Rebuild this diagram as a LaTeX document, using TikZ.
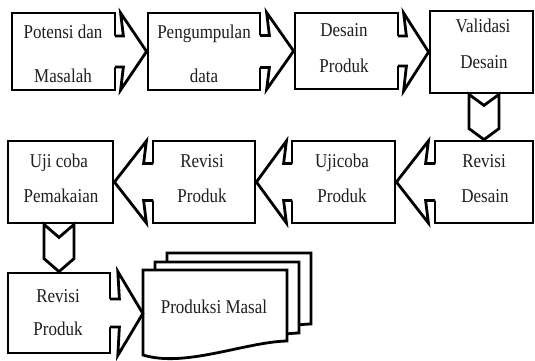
\documentclass[tikz,border=0pt]{standalone}
\usepackage{fontspec}
\setmainfont{Liberation Serif}
\usetikzlibrary{calc}
\newcommand\tx[1]{\scalebox{1}[1.15]{#1}}
\tikzset{
  lw/.style={line width=2.8pt},
  box/.style={draw, lw, rectangle, inner sep=0pt, fill=white},
  conn/.style={draw, lw, line cap=rect, line join=miter},
  txt/.style={anchor=base, inner sep=0pt, text=black!88, font=\fontsize{17}{17}\selectfont},
}
% #1 from anchor, #2 to anchor, #3 direction (1 or -1), #4 stem length, #5 head length, #6 stem half height, #7 head half height
\newcommand\blockarrow[7]{%
  \fill[white] ($(#1)+({#3*(-3.5)},{-#6})$) -- ($(#1)+({#3*#4},{-#6})$) -- ($(#2)+({#3*(-#5)},{-#7})$) -- (#2)
     -- ($(#2)+({#3*(-#5)},{#7})$) -- ($(#1)+({#3*#4},{#6})$) -- ($(#1)+({#3*(-3.5)},{#6})$) -- cycle;
  \draw[conn] ($(#1)+(0,{-#6})$) -- ($(#1)+({#3*#4},{-#6})$) -- ($(#2)+({#3*(-#5)},{-#7})$) -- (#2)
     -- ($(#2)+({#3*(-#5)},{#7})$) -- ($(#1)+({#3*#4},{#6})$) -- ($(#1)+(0,{#6})$);
}
% #1 from node, #2 to node, #3 notch depth
\newcommand\chevdown[3]{%
  \filldraw[conn, fill=white] ($(#1.south -| #2.north)+(-15,0)$) -- ($(#2.north)+(-15,{-#3})$) -- (#2.north)
     -- ($(#2.north)+(15,{-#3})$) -- ($(#1.south -| #2.north)+(15,0)$) -- ($(#1.south -| #2.north)+(0,{#3})$) -- cycle;
}
\begin{document}
\begin{tikzpicture}[x=1pt, y=-1pt]
\useasboundingbox (0,0) rectangle (535,361);
% row 1
\node[box, minimum width=103pt, minimum height=77pt] (b1) at (63.5,51.5) {};
\node[box, minimum width=112pt, minimum height=77pt] (b2) at (204,51.5) {};
\node[box, minimum width=103pt, minimum height=76pt] (b3) at (346.5,51) {};
\node[box, minimum width=103pt, minimum height=82pt] (b4) at (481.5,52) {};
% row 2
\node[box, minimum width=105pt, minimum height=82pt] (c1) at (60.5,182) {};
\node[box, minimum width=102pt, minimum height=82pt] (c2) at (204,182) {};
\node[box, minimum width=103pt, minimum height=82pt] (c3) at (343.5,182) {};
\node[box, minimum width=98pt, minimum height=82pt] (c4) at (484,182) {};
% row 3
\node[box, minimum width=102pt, minimum height=80pt] (d1) at (59,313) {};
% stacked documents
\begin{scope}[shift={(24,-17)}]
  \filldraw[conn, fill=white] (143,270) -- (287,270) -- (287,341) .. controls (245,342) and (185,368) .. (143,355) -- cycle;
\end{scope}
\begin{scope}[shift={(12,-8)}]
  \filldraw[conn, fill=white] (143,270) -- (287,270) -- (287,341) .. controls (245,342) and (185,368) .. (143,355) -- cycle;
\end{scope}
\filldraw[conn, fill=white] (143,270) -- (287,270) -- (287,341) .. controls (245,342) and (185,368) .. (143,355) -- cycle;
\node[minimum width=144pt, minimum height=87pt, inner sep=0pt] (pm) at (215,313.5) {};
% connectors
\blockarrow{b1.east}{b2.west}{1}{7}{26}{15.5}{38.5}
\blockarrow{b2.east}{b3.west}{1}{8}{27}{16}{38.5}
\blockarrow{b3.east}{b4.west}{1}{7}{25}{15}{39}
\chevdown{b4}{c4}{11}
\blockarrow{c4.west}{c3.east}{-1}{8}{32}{18.5}{41}
\blockarrow{c3.west}{c2.east}{-1}{7}{30}{18.5}{41}
\blockarrow{c2.west}{c1.east}{-1}{8}{32}{18.5}{41}
\chevdown{c1}{d1}{13}
\blockarrow{d1.east}{pm.west}{1}{8}{25}{14}{42}
% texts
\node[txt] (t1a) at (63,38) {\tx{Potensi dan}};
\node[txt] (t1b) at (63,82) {\tx{Masalah}};
\node[txt] (t2a) at (204,38) {\tx{Pengumpulan}};
\node[txt] (t2b) at (204,82) {\tx{data}};
\node[txt] (t3a) at (344,37) {\tx{Desain}};
\node[txt] (t3b) at (344,72) {\tx{Produk}};
\node[txt] (t4a) at (483,33) {\tx{Validasi}};
\node[txt] (t4b) at (484,68) {\tx{Desain}};
\node[txt] (u1a) at (59,167) {\tx{Uji coba}};
\node[txt] (u1b) at (61,202) {\tx{Pemakaian}};
\node[txt] (u2a) at (202,167) {\tx{Revisi}};
\node[txt] (u2b) at (202,202) {\tx{Produk}};
\node[txt] (u3a) at (342,167) {\tx{Ujicoba}};
\node[txt] (u3b) at (342,202) {\tx{Produk}};
\node[txt] (u4a) at (484,167) {\tx{Revisi}};
\node[txt] (u4b) at (485,202) {\tx{Desain}};
\node[txt] (v1a) at (58,302) {\tx{Revisi}};
\node[txt] (v1b) at (58,335) {\tx{Produk}};
\node[txt] (pmt) at (214,313) {\tx{Produksi Masal}};
\end{tikzpicture}
\end{document}
